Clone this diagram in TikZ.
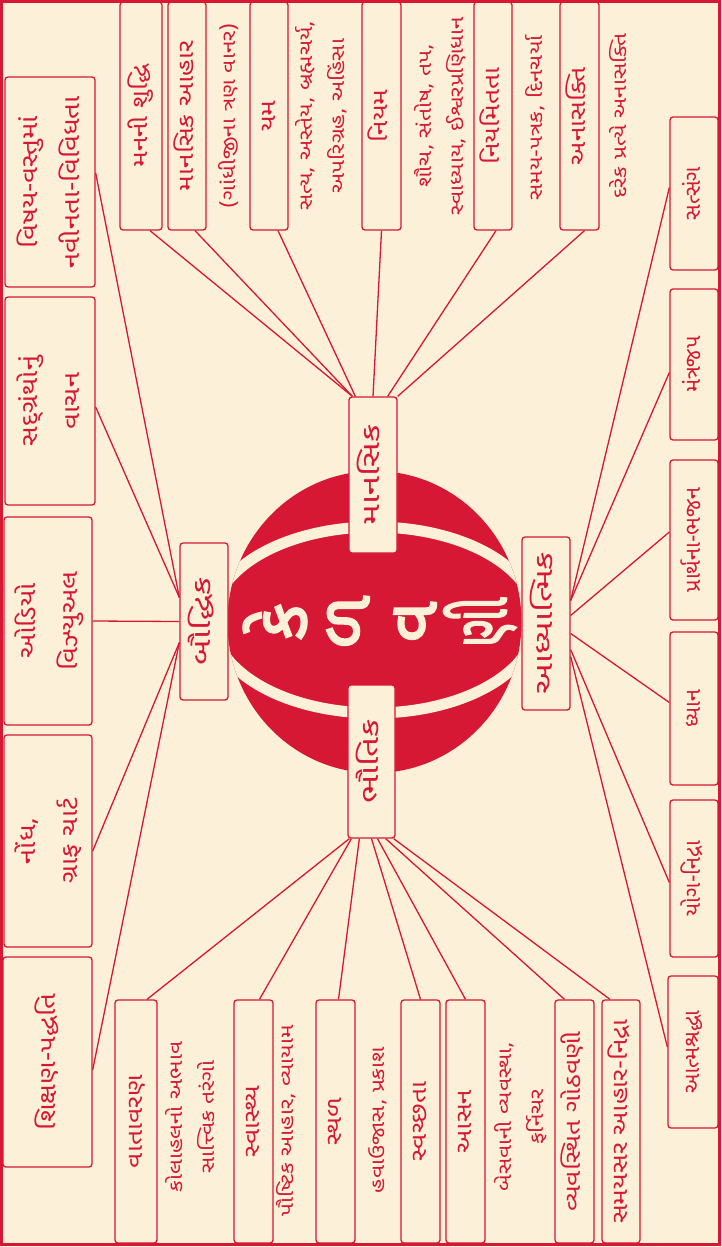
\documentclass[tikz,border=0pt]{standalone}
\usepackage{fontspec}
\usepackage{graphicx}
\newfontfamily\guj[Script=Gujarati,FakeStretch=1.2]{Noto Sans Gujarati UI}
\newfontfamily\gujw[Script=Gujarati,FakeStretch=1.4]{Noto Sans Gujarati UI}
\newfontfamily\gujn[Script=Gujarati]{Noto Sans Gujarati UI}
\newfontfamily\gujb[Script=Gujarati,FakeBold=3]{Noto Sans Gujarati UI}
\definecolor{ballred}{RGB}{214,24,52}
\definecolor{paper}{RGB}{253,240,216}
\newcommand{\vtxt}[1]{\rotatebox{90}{\begin{tabular}{@{}c@{}}#1\end{tabular}}}

\begin{document}
\begin{tikzpicture}[x=1pt,y=-1pt,
  every node/.style={text=ballred,inner sep=0pt},
  leaf/.style={draw=ballred,line width=1.3pt,rounded corners=3pt,fill=paper,font=\guj\fontsize{22}{30}\selectfont},
  sideleaf/.style={leaf,font=\gujn\fontsize{22}{30}\selectfont},
  bigleaf/.style={leaf,font=\guj\fontsize{23}{42}\selectfont},
  hub/.style={leaf,font=\gujw\fontsize{25}{30}\selectfont},
  note/.style={font=\guj\fontsize{19}{32}\selectfont},
  link/.style={draw=ballred,line width=1.3pt},
  letter/.style={text=paper,font=\gujb\fontsize{70}{70}\selectfont,rotate=90}]

  \fill[paper] (0,0) rectangle (722,1247);
  \useasboundingbox (0,0) rectangle (722,1247);

  % ball
  \fill[ballred] (374.5,622) ellipse[x radius=147,y radius=151];
  \begin{scope}
    \clip (374.5,622) ellipse[x radius=147,y radius=151];
    \draw[paper,line width=11pt] (374.5,620) ellipse[x radius=162,y radius=93];
  \end{scope}
  \node[letter] (l1) at (275,622) {કે};
  \node[letter] (l2) at (348,622) {ળ};
  \node[letter] (l3) at (415,622) {વ};
  \node[letter] (l4) at (480,622) {\scalebox{0.65}[1]{ણી}};

  \node[hub,minimum width=48pt,minimum height=156pt] (man) at (373,475) {\vtxt{માનસિક}};
  \node[hub,minimum width=47pt,minimum height=153pt] (bhau) at (371.5,761.5) {\vtxt{ભૌતિક}};
  \node[hub,minimum width=48pt,minimum height=157pt] (bau) at (204,621.5) {\vtxt{બૌદ્ધિક}};
  \node[hub,minimum width=48pt,minimum height=173pt] (adh) at (546,623.5) {\vtxt{આધ્યાત્મિક}};

  \node[bigleaf,minimum width=90pt,minimum height=210pt] (b1) at (50,182) {\vtxt{વિષય-વસ્તુમાં\\નવીનતા-વિવિધતા}};
  \node[bigleaf,minimum width=90pt,minimum height=208pt] (b2) at (50,401) {\vtxt{સદ્ગ્રંથોનું\\વાચન}};
  \node[bigleaf,minimum width=88pt,minimum height=208pt] (b3) at (48,621) {\vtxt{ઓડિયો\\વિઝ્યુઅલ}};
  \node[bigleaf,minimum width=88pt,minimum height=212pt] (b4) at (48,841) {\vtxt{નોંધ,\\ગ્રાફ ચાર્ટ}};
  \node[bigleaf,minimum width=89pt,minimum height=210pt] (b5) at (47.5,1062) {\vtxt{શિક્ષણ-પદ્ધતિ}};

  \node[leaf,minimum width=42pt,minimum height=228pt] (t1) at (141,116) {\vtxt{મનની શુદ્ધિ}};
  \node[leaf,minimum width=38pt,minimum height=228pt] (t2) at (187,116) {\vtxt{માનસિક આહાર}};
  \node[note] (n2) at (229,116) {\vtxt{(ગાંધીજીના ત્રણ વાનર)}};
  \node[leaf,minimum width=38pt,minimum height=228pt] (t3) at (269,116) {\vtxt{યમ}};
  \node[note] (n3) at (322,116) {\vtxt{સત્ય, અસ્તેય, બ્રહ્મચર્ય,\\અપરિગ્રહ, અહિંસા}};
  \node[leaf,minimum width=39pt,minimum height=228pt] (t4) at (381.5,116) {\vtxt{નિયમ}};
  \node[note] (n4) at (441,116) {\vtxt{શૌચ, સંતોષ, તપ,\\સ્વાધ્યાય, ઈશ્વરપ્રણિધાન}};
  \node[leaf,minimum width=38pt,minimum height=228pt] (t5) at (493,116) {\vtxt{નિયમિતતા}};
  \node[note] (n5) at (536,118) {\vtxt{સમય-પત્રક, દિનચર્યા}};
  \node[leaf,minimum width=39pt,minimum height=228pt] (t6) at (579.5,116) {\vtxt{અનાસક્તિ}};
  \node[note] (n6) at (620,116) {\vtxt{દરેક પ્રત્યે અનાસક્તિ}};

  \node[sideleaf,minimum width=48pt,minimum height=153pt] (r1) at (694,193.5) {\vtxt{સત્સંગ}};
  \node[sideleaf,minimum width=48pt,minimum height=151pt] (r2) at (694,364.5) {\vtxt{મંત્રજપ}};
  \node[sideleaf,minimum width=48pt,minimum height=160pt] (r3) at (694,540) {\vtxt{પ્રાર્થના-ભજન}};
  \node[sideleaf,minimum width=48pt,minimum height=153pt] (r4) at (694,708.5) {\vtxt{ધ્યાન}};
  \node[sideleaf,minimum width=48pt,minimum height=157pt] (r5) at (694,878.5) {\vtxt{યોગ-નિદ્રા}};
  \node[sideleaf,minimum width=50pt,minimum height=152pt] (r6) at (693,1052) {\vtxt{આત્મશ્રદ્ધા}};

  \node[leaf,minimum width=42pt,minimum height=243pt] (d1) at (136,1121.5) {\vtxt{વાતાવરણ}};
  \node[note] (n7) at (192,1117) {\vtxt{કોલાહલનો અભાવ\\સાત્ત્વિક તરંગો}};
  \node[leaf,minimum width=39pt,minimum height=243pt] (d2) at (253.5,1121.5) {\vtxt{સ્વાસ્થ્ય}};
  \node[note] (n8) at (287,1121) {\vtxt{પૌષ્ટિક આહાર, વ્યાયામ}};
  \node[leaf,minimum width=39pt,minimum height=243pt] (d3) at (335.5,1121.5) {\vtxt{સ્થળ}};
  \node[note] (n9) at (378,1120) {\vtxt{હવાઉજાસ, પ્રકાશ}};
  \node[leaf,minimum width=39pt,minimum height=243pt] (d4) at (420.5,1121.5) {\vtxt{સ્વચ્છતા}};
  \node[leaf,minimum width=39pt,minimum height=243pt] (d5) at (465.5,1121.5) {\vtxt{આસન}};
  \node[note] (n10) at (521,1117) {\vtxt{બેસવાની વ્યવસ્થા,\\ફર્નિચર}};
  \node[leaf,minimum width=39pt,minimum height=243pt] (d6) at (574.5,1121.5) {\vtxt{વ્યવસ્થિત ગોઠવણી}};
  \node[leaf,minimum width=38pt,minimum height=243pt] (d7) at (621,1121.5) {\vtxt{સમયસર આહાર-નિદ્રા}};

  \draw[link] ([yshift=24pt]bau.west) -- ([yshift=9pt]b1.east);
  \draw[link] ([yshift=24pt]bau.west) -- ([yshift=-6pt]b2.east);
  \draw[link] (bau.west) -- (b3.east);
  \draw[link] ([yshift=-21pt]bau.west) -- ([yshift=-10pt]b4.east);
  \draw[link] ([yshift=-21pt]bau.west) -- ([yshift=-8pt]b5.east);

  \draw[link] ([xshift=4pt]man.north west) -- ([xshift=9pt]t1.south);
  \draw[link] ([xshift=4pt]man.north west) -- ([xshift=8pt]t2.south);
  \draw[link] ([xshift=7pt]man.north west) -- ([xshift=9pt]t3.south);
  \draw[link] (man.north) -- (t4.south);
  \draw[link] ([xshift=-10pt]man.north east) -- ([xshift=3pt]t5.south);
  \draw[link] (man.north east) -- ([xshift=5pt]t6.south);

  \draw[link] ([yshift=23pt]adh.east) -- ([yshift=6pt]r1.west);
  \draw[link] ([yshift=23pt]adh.east) -- ([yshift=-8pt]r2.west);
  \draw[link] ([yshift=8pt]adh.east) -- ([yshift=8pt]r3.west);
  \draw[link] ([yshift=-10pt]adh.east) -- ([yshift=6pt]r4.west);
  \draw[link] ([yshift=-26pt]adh.east) -- ([yshift=-4pt]r5.west);
  \draw[link] ([yshift=-33pt]adh.east) -- ([yshift=5pt]r6.west);

  \draw[link] ([xshift=2pt]bhau.south west) -- ([xshift=11pt]d1.north);
  \draw[link] ([xshift=4pt]bhau.south west) -- ([xshift=6pt]d2.north);
  \draw[link] ([xshift=12pt]bhau.south west) -- ([xshift=3pt]d3.north);
  \draw[link] (bhau.south) -- (d4.north);
  \draw[link] ([xshift=6pt]bhau.south) -- (d5.north);
  \draw[link] ([xshift=-10pt]bhau.south east) -- ([xshift=-10pt]d6.north);
  \draw[link] ([xshift=-2pt]bhau.south east) -- ([xshift=-11pt]d7.north);

  \draw[ballred,line width=2.5pt] (1.5,1.5) rectangle (719.5,1244.5);
\end{tikzpicture}
\end{document}
